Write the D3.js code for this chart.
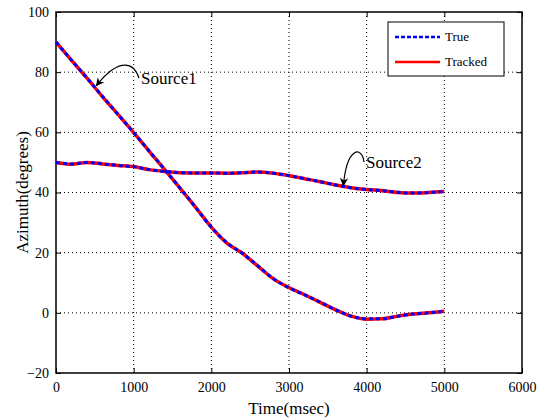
<!DOCTYPE html>
<html>
<head>
<meta charset="utf-8">
<script src="https://cdn.jsdelivr.net/npm/d3@7"></script>
<style>
  body { margin: 0; background: #fff; }
</style>
</head>
<body>
<svg></svg>
<script>
const width = 543;
const height = 419;
const margin = { top: 12, right: 21, bottom: 46, left: 56 };
const serif = "'Liberation Serif', 'DejaVu Serif', 'Times New Roman', serif";

// time in msec
const time = [0, 200, 400, 600, 800, 1000, 1200, 1400, 1600, 1800, 2000, 2200, 2400,
  2600, 2800, 3000, 3200, 3400, 3600, 3800, 4000, 4200, 4400, 4600, 4800, 5000];

const source1True = [90, 84, 78, 71.9, 65.9, 59.9, 53.8, 47.6, 41.4, 35, 28.4, 23.3, 19.8,
  15.6, 11.3, 8.3, 6, 3.6, 1, -1.1, -2, -2, -1.1, -0.4, 0, 0.5];
const source1Tracked = [90, 83.9, 78, 71.8, 65.9, 59.9, 53.7, 47.6, 41.3, 35, 28.5, 23.2, 19.8,
  15.5, 11.3, 8.4, 6, 3.5, 1, -1.1, -2.1, -2, -1.1, -0.4, 0, 0.5];

const source2True = [50, 49.5, 50, 49.5, 49, 48.6, 47.6, 47, 46.6, 46.5, 46.5, 46.4, 46.6,
  46.8, 46.4, 45.6, 44.6, 43.6, 42.5, 41.6, 41, 40.6, 40.1, 39.8, 40, 40.3];
const source2Tracked = [50, 49.4, 50, 49.5, 49, 48.6, 47.6, 47, 46.6, 46.5, 46.5, 46.4, 46.6,
  46.8, 46.4, 45.6, 44.6, 43.6, 42.5, 41.6, 41, 40.6, 40, 39.8, 40, 40.3];

const xTicks = [0, 1000, 2000, 3000, 4000, 5000, 6000];
const yTicks = [-20, 0, 20, 40, 60, 80, 100];

const svg = d3.select('svg')
  .attr('width', width)
  .attr('height', height)
  .style('font-family', serif);

const xScale = d3.scaleLinear()
  .domain([0, 6000])
  .range([margin.left, width - margin.right]);

const yScale = d3.scaleLinear()
  .domain([-20, 100])
  .range([height - margin.bottom, margin.top]);

const x0 = margin.left, x1 = width - margin.right;
const y0 = height - margin.bottom, y1 = margin.top;

// ====================================
// Grid
// ====================================
svg.append('g')
  .selectAll('line')
  .data(xTicks.slice(1, -1))
  .enter()
  .append('line')
  .attr('x1', d => xScale(d)).attr('x2', d => xScale(d))
  .attr('y1', y0).attr('y2', y1)
  .attr('stroke', '#000')
  .attr('stroke-dasharray', '1,3');

svg.append('g')
  .selectAll('line')
  .data(yTicks.slice(1, -1))
  .enter()
  .append('line')
  .attr('x1', x0).attr('x2', x1)
  .attr('y1', d => yScale(d)).attr('y2', d => yScale(d))
  .attr('stroke', '#000')
  .attr('stroke-dasharray', '1,3');

// ====================================
// Axes (ticks inside, on all sides)
// ====================================
const tickLen = 5;
const xAxis = d3.axisBottom(xScale).tickValues(xTicks).tickSize(-tickLen).tickPadding(9)
  .tickFormat(d3.format('d'));
const yAxis = d3.axisLeft(yScale).tickValues(yTicks).tickSize(-tickLen).tickPadding(7)
  .tickFormat(d3.format('d'));

svg.append('g')
  .attr('transform', `translate(0, ${y0})`)
  .call(xAxis);
svg.append('g')
  .attr('transform', `translate(${x0}, 0)`)
  .call(yAxis);

svg.append('g')
  .attr('transform', `translate(0, ${y1})`)
  .call(d3.axisTop(xScale).tickValues(xTicks).tickSize(-tickLen).tickFormat(''));
svg.append('g')
  .attr('transform', `translate(${x1}, 0)`)
  .call(d3.axisRight(yScale).tickValues(yTicks).tickSize(-tickLen).tickFormat(''));

svg.selectAll('.domain').remove();
svg.selectAll('.tick line').attr('stroke', '#000');
svg.selectAll('.tick text')
  .style('font-family', serif)
  .style('font-size', '14px')
  .attr('fill', '#000');

svg.append('rect')
  .attr('x', x0).attr('y', y1)
  .attr('width', x1 - x0).attr('height', y0 - y1)
  .attr('fill', 'none')
  .attr('stroke', '#000')
  .attr('stroke-width', 1.5);

// ====================================
// Lines
// ====================================
const line = d3.line()
  .x((d, i) => xScale(time[i]))
  .y(d => yScale(d))
  .curve(d3.curveMonotoneX);

[source1Tracked, source2Tracked].forEach(s => {
  svg.append('path')
    .datum(s)
    .attr('d', line)
    .attr('fill', 'none')
    .attr('stroke', '#ff0000')
    .attr('stroke-width', 3.5);
});

[source1True, source2True].forEach(s => {
  svg.append('path')
    .datum(s)
    .attr('d', line)
    .attr('fill', 'none')
    .attr('stroke', '#0000ff')
    .attr('stroke-width', 3)
    .attr('stroke-dasharray', '4,3');
});

// ====================================
// Annotations
// ====================================
svg.append('defs').append('marker')
  .attr('id', 'arrow')
  .attr('viewBox', '0 0 10 10')
  .attr('refX', 9).attr('refY', 5)
  .attr('markerWidth', 7).attr('markerHeight', 7)
  .attr('orient', 'auto')
  .append('path')
  .attr('d', 'M0,0 L10,5 L0,10 L3,5 Z')
  .attr('fill', '#000');

function annotate(tx, ty, label, t, v, c1, c2) {
  const ax = xScale(t), ay = yScale(v);
  svg.append('path')
    .attr('d', `M${tx - 2},${ty - 6} C${c1[0]},${c1[1]} ${c2[0]},${c2[1]} ${ax},${ay}`)
    .attr('fill', 'none')
    .attr('stroke', '#000')
    .attr('stroke-width', 1.2)
    .attr('marker-end', 'url(#arrow)');
  svg.append('text')
    .attr('x', tx).attr('y', ty)
    .style('font-family', serif)
    .style('font-size', '17px')
    .text(label);
}

annotate(141, 84, 'Source1', 520, 75.5, [132, 58], [115, 62]);
annotate(366, 168, 'Source2', 3700, 42.3, [362, 146], [347, 146]);

// ====================================
// Legend
// ====================================
const legend = svg.append('g');
legend.append('rect')
  .attr('x', 388).attr('y', 22)
  .attr('width', 116).attr('height', 54)
  .attr('fill', '#fff')
  .attr('stroke', '#000');

const legendItems = [
  { name: 'True', color: '#0000ff', dash: '4,2' },
  { name: 'Tracked', color: '#ff0000', dash: null }
];
legendItems.forEach((d, i) => {
  const y = 37 + i * 25;
  legend.append('line')
    .attr('x1', 395).attr('x2', 440)
    .attr('y1', y).attr('y2', y)
    .attr('stroke', d.color)
    .attr('stroke-width', 2.5)
    .attr('stroke-dasharray', d.dash);
  legend.append('text')
    .attr('x', 445).attr('y', y + 4)
    .style('font-family', serif)
    .style('font-size', '13px')
    .text(d.name);
});

// ====================================
// Axis titles
// ====================================
svg.append('text')
  .text('Time(msec)')
  .attr('x', (x0 + x1) / 2)
  .attr('y', 414)
  .attr('text-anchor', 'middle')
  .style('font-family', serif)
  .style('font-size', '17px');

svg.append('text')
  .text('Azimuth(degrees)')
  .attr('transform', `translate(28, ${(y0 + y1) / 2}) rotate(-90)`)
  .attr('text-anchor', 'middle')
  .style('font-family', serif)
  .style('font-size', '17px');
</script>
</body>
</html>
